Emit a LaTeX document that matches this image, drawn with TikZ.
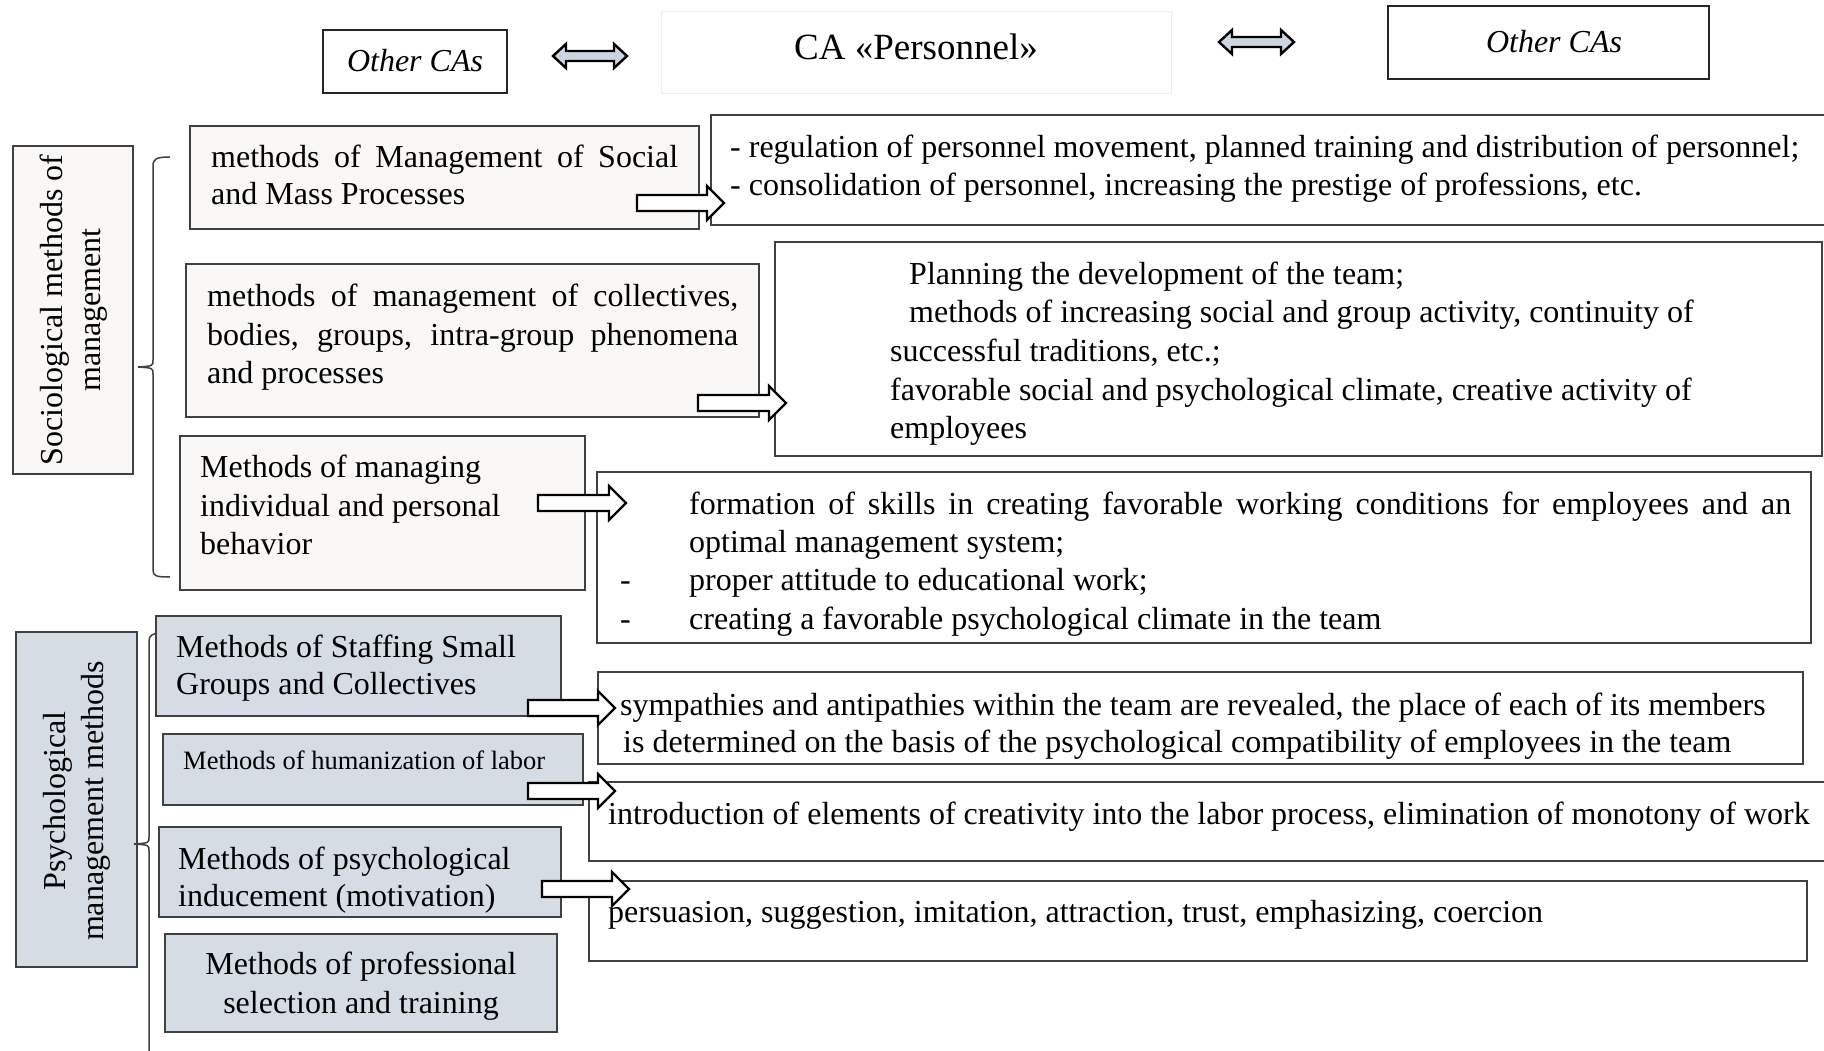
\documentclass[tikz,border=0pt]{standalone}
\usepackage{fontspec}
\setmainfont{Liberation Serif}
\usetikzlibrary{fit}
\definecolor{sfill}{HTML}{F9F8F6}
\definecolor{pfill}{HTML}{D6DCE4}
\definecolor{bord}{HTML}{404040}
\definecolor{darr}{HTML}{CDD5E0}
\definecolor{faint}{HTML}{EDEDED}
\newcommand\fsm{\fontsize{32}{38}\selectfont}
\newcommand\fss{\fontsize{26.5}{32}\selectfont}
\newcommand\fsv{\fontsize{32}{38}\selectfont}
\newcommand\fst{\fontsize{37}{44}\selectfont}
\newcommand\blockarr[3]{% x1, x2, y
  \draw[blockarrow] (#1,#3-8) -- (#2-17,#3-8) -- (#2-17,#3-17) -- (#2,#3) -- (#2-17,#3+17) -- (#2-17,#3+8) -- (#1,#3+8) -- cycle;}
\newcommand\dblarr[3]{% x1, x2, y
  \draw[dblarrow] (#1,#3) -- (#1+13,#3-12) -- (#1+13,#3-5) -- (#2-13,#3-5) -- (#2-13,#3-12) -- (#2,#3) -- (#2-13,#3+12) -- (#2-13,#3+5) -- (#1+13,#3+5) -- (#1+13,#3+12) -- cycle;}
\tikzset{
  sbox/.style={draw=bord, line width=1.6pt, fill=sfill, inner sep=0pt},
  pbox/.style={draw=bord, line width=1.6pt, fill=pfill, inner sep=0pt},
  rbox/.style={draw=bord, line width=1.6pt, fill=white, inner sep=0pt},
  tbox/.style={draw=black!85, line width=1.6pt, fill=white, inner sep=0pt},
  ln/.style={anchor=base west, inner sep=0pt, font=\fsm},
  lnc/.style={anchor=base, inner sep=0pt, font=\fsm},
  blockarrow/.style={draw=black, line width=2.4pt, fill=white, line join=miter},
  dblarrow/.style={draw=black, line width=2.4pt, fill=darr, line join=miter},
  bracel/.style={draw=bord, line width=1.5pt},
}
\begin{document}
\begin{tikzpicture}[x=1pt,y=-1pt]
\useasboundingbox (0,0) rectangle (1824,1051);
\clip (0,0) rectangle (1824,1051);
\fill[white] (0,0) rectangle (1824,1051);

% ---- top row
\node[tbox, fit={(323,30)(507,93)}] (oca1) {};
\node[inner sep=0pt, font=\fsm\itshape] (oca1t) at (415,61) {Other CAs};
\node[draw=faint, line width=1pt, fill=white, inner sep=0pt, fit={(661,12)(1171,94)}] (ca) {};
\node[inner sep=0pt, font=\fst] (cat) at (916,47) {CA «Personnel»};
\node[tbox, fit={(1388,6)(1709,79)}] (oca2) {};
\node[inner sep=0pt, font=\fsm\itshape] (oca2t) at (1554,42) {Other CAs};
\dblarr{553}{627}{56}
\dblarr{1219}{1294}{42}

% ---- sociological label and brace
\node[sbox, fit={(13,146)(133,474)}] (slab) {};
\node[rotate=90, align=center, font=\fsv, inner sep=0pt] (slabt) at (74,310) {Sociological methods of\\management};
\draw[bracel] (170,157) .. controls (156,157) and (153,159) .. (153,166) -- (153,360)
  .. controls (153,366) .. (138,367) .. controls (153,368) .. (153,374) -- (153,570)
  .. controls (153,576) and (156,577) .. (170,577);

% ---- psychological label and brace
\node[pbox, fit={(16,632)(137,967)}] (plab) {};
\node[rotate=90, align=center, font=\fsv, inner sep=0pt] (plabt) at (77,801) {Psychological\\management methods};
\draw[bracel] (166,633) .. controls (152,633) and (149,635) .. (149,641) -- (149,837)
  .. controls (149,843) .. (134,844) .. controls (149,845) .. (149,851) -- (149,1060);

% ---- right boxes (drawn first, arrows overlap)
\node[rbox, fit={(711,115)(1830,225)}] (r1) {};
\node[rbox, fit={(775,242)(1822,456)}] (r2) {};
\node[rbox, fit={(597,472)(1811,643)}] (r3) {};
\node[rbox, fit={(598,672)(1803,764)}] (r4) {};
\node[rbox, fit={(589,782)(1830,861)}] (r5) {};
\node[rbox, fit={(589,881)(1807,961)}] (r6) {};

% ---- left boxes
\node[sbox, fit={(190,126)(699,229)}] (b1) {};
\node[sbox, fit={(186,264)(759,417)}] (b2) {};
\node[sbox, fit={(180,436)(585,590)}] (b3) {};
\node[pbox, fit={(156,616)(561,716)}] (b4) {};
\node[pbox, fit={(163,734)(583,805)}] (b5) {};
\node[pbox, fit={(159,827)(561,917)}] (b6) {};
\node[pbox, fit={(165,934)(557,1032)}] (b7) {};

% ---- texts of left boxes
\node[ln] (b1a) at (211,168) {\makebox[467pt][s]{methods of Management of Social}};
\node[ln] (b1b) at (211,205) {and Mass Processes};
\node[ln] (b2a) at (207,306) {\makebox[531pt][s]{methods of management of collectives,}};
\node[ln] (b2b) at (207,345) {\makebox[531pt][s]{bodies, groups, intra-group phenomena}};
\node[ln] (b2c) at (207,383) {and processes};
\node[ln] (b3a) at (200,477) {Methods of managing};
\node[ln] (b3b) at (200,516) {individual and personal};
\node[ln] (b3c) at (200,554) {behavior};
\node[ln] (b4a) at (176,657) {Methods of Staffing Small};
\node[ln] (b4b) at (176,694) {Groups and Collectives};
\node[ln, font=\fss] (b5a) at (183,769) {Methods of humanization of labor};
\node[ln] (b6a) at (178,869) {Methods of psychological};
\node[ln] (b6b) at (178,906) {inducement (motivation)};
\node[lnc] (b7a) at (361,974) {Methods of professional};
\node[lnc] (b7b) at (361,1013) {selection and training};

% ---- texts of right boxes
\node[ln] (r1a) at (730,158) {- regulation of personnel movement, planned training and distribution of personnel;};
\node[ln] (r1b) at (730,196) {- consolidation of personnel, increasing the prestige of professions, etc.};
\node[ln] (r2a) at (909,284) {Planning the development of the team;};
\node[ln] (r2b) at (909,323) {methods of increasing social and group activity, continuity of};
\node[ln] (r2c) at (890,361) {successful traditions, etc.;};
\node[ln] (r2d) at (890,400) {favorable social and psychological climate, creative activity of};
\node[ln] (r2e) at (890,438) {employees};
\node[ln] (r3a) at (689,514) {\makebox[1102pt][s]{formation of skills in creating favorable working conditions for employees and an}};
\node[ln] (r3b) at (689,552) {optimal management system;};
\node[ln] (r3c) at (620,590) {-};
\node[ln] (r3d) at (689,590) {proper attitude to educational work;};
\node[ln] (r3e) at (620,629) {-};
\node[ln] (r3f) at (689,629) {creating a favorable psychological climate in the team};
\node[ln] (r4a) at (620,715) {sympathies and antipathies within the team are revealed, the place of each of its members};
\node[ln] (r4b) at (623,752) {is determined on the basis of the psychological compatibility of employees in the team};
\node[ln] (r5a) at (608,824) {introduction of elements of creativity into the labor process, elimination of monotony of work};
\node[ln] (r6a) at (608,922) {persuasion, suggestion, imitation, attraction, trust, emphasizing, coercion};

% ---- block arrows
\blockarr{637}{724}{203}
\blockarr{698}{786}{403}
\blockarr{538}{626}{503}
\blockarr{528}{615}{708}
\blockarr{528}{615}{791}
\blockarr{542}{629}{889}
\end{tikzpicture}
\end{document}
